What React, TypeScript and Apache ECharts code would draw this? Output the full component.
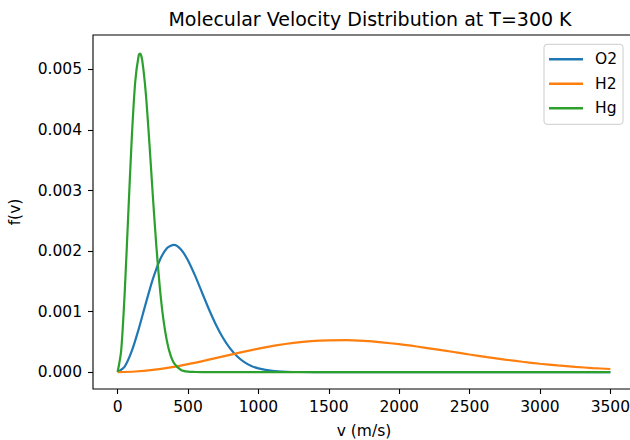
import React, { useEffect, useRef } from "react";
import * as echarts from "echarts";

const titleText = "Molecular Velocity Distribution at T=300 K";
const xName = "v (m/s)";
const yName = "f(v)";
const seriesNames = ["O2", "H2", "Hg"];
const colors = ["#1f77b4", "#ff7f0e", "#2ca02c"];

const xTicks = [0, 500, 1000, 1500, 2000, 2500, 3000, 3500];
const yTicks = [0, 0.001, 0.002, 0.003, 0.004, 0.005];

const o2V = [0, 50, 100, 150, 200, 250, 300, 350, 400, 450, 500, 550, 600, 650, 700, 750, 800, 850, 900, 950, 1000, 1100, 1200, 1300, 1500, 2000, 2500, 3000, 3500];
const o2F = [0, 0.0000902, 0.000344, 0.000714, 0.001135, 0.001535, 0.001853, 0.002047, 0.002102, 0.002026, 0.001844, 0.001593, 0.001311, 0.00103, 0.000775, 0.000559, 0.000387, 0.000257, 0.000164, 0.000101, 0.00006, 0.000019, 0.000005, 0.000001, 0, 0, 0, 0, 0];

const h2V = [0, 125, 250, 375, 500, 625, 750, 875, 1000, 1125, 1250, 1375, 1500, 1625, 1750, 1875, 2000, 2125, 2250, 2375, 2500, 2625, 2750, 2875, 3000, 3125, 3250, 3375, 3500];
const h2F = [0, 0.000009, 0.0000353, 0.000077, 0.000131, 0.000193, 0.00026, 0.000326, 0.000387, 0.00044, 0.000482, 0.000511, 0.000525, 0.000527, 0.000515, 0.000492, 0.000461, 0.000422, 0.000379, 0.000335, 0.00029, 0.000247, 0.000206, 0.00017, 0.000137, 0.000109, 0.0000857, 0.0000662, 0.0000503];

const hgV = [0, 25, 50, 75, 100, 125, 150, 160, 175, 200, 225, 250, 275, 300, 325, 350, 375, 400, 450, 500, 550, 600, 1000, 1500, 2000, 2500, 3000, 3500];
const hgF = [0, 0.000351, 0.001301, 0.002582, 0.003849, 0.004797, 0.00524, 0.005263, 0.005145, 0.004608, 0.003805, 0.002914, 0.00208, 0.001389, 0.000869, 0.000512, 0.000283, 0.000148, 0.000034, 0.000006, 0.000001, 0, 0, 0, 0, 0, 0, 0];

const FONT = "DejaVu Sans";

function pairs(v: number[], f: number[]) {
  return v.map((x, i) => [x, f[i]]);
}

export default function App() {
  const ref = useRef<HTMLDivElement>(null);
  useEffect(() => {
    if (!ref.current) return;
    const chart = echarts.init(ref.current, undefined, { renderer: "svg" });
    const mk = (name: string, v: number[], f: number[], c: string) => ({
      name,
      type: "line",
      data: pairs(v, f),
      showSymbol: false,
      symbol: "none",
      smooth: 0.25,
      lineStyle: { color: c, width: 2.2 },
      itemStyle: { color: c },
      emphasis: { disabled: true },
    });
    chart.setOption({
      animation: false,
      backgroundColor: "#ffffff",
      title: {
        text: titleText,
        left: 365,
        textAlign: "center",
        top: 4,
        textStyle: { fontFamily: FONT, fontSize: 19, fontWeight: "normal", color: "#000" },
      },
      legend: {
        orient: "vertical",
        left: 544,
        top: 44.3,
        data: seriesNames,
        icon: "rect",
        itemWidth: 34,
        itemHeight: 2.4,
        itemGap: 8.5,
        padding: [7, 6, 8, 5],
        borderColor: "#cccccc",
        borderWidth: 1,
        borderRadius: 3,
        backgroundColor: "rgba(255,255,255,0.8)",
        textStyle: { fontFamily: FONT, fontSize: 15.5, color: "#000", padding: [0, 0, 0, 7] },
      },
      grid: {
        left: 93,
        top: 35,
        width: 542,
        height: 354,
        containLabel: false,
        outerBoundsMode: "none",
        show: true,
        borderColor: "#000",
        borderWidth: 1.1,
        backgroundColor: "transparent",
      },
      xAxis: {
        type: "value",
        min: -175,
        max: 3675,
        name: xName,
        nameLocation: "middle",
        nameGap: 34,
        nameTextStyle: { fontFamily: FONT, fontSize: 15.5, color: "#000" },
        axisLine: { show: false, onZero: false },
        axisTick: { show: true, inside: false, length: 5, customValues: xTicks, lineStyle: { color: "#000", width: 1.1 } },
        axisLabel: {
          customValues: xTicks,
          margin: 10,
          fontFamily: FONT,
          fontSize: 15.5,
          color: "#000",
          formatter: (v: number) => String(v),
        },
        splitLine: { show: false },
      },
      yAxis: {
        type: "value",
        min: -0.00028,
        max: 0.00557,
        name: yName,
        nameLocation: "middle",
        nameGap: 70,
        nameTextStyle: { fontFamily: FONT, fontSize: 15.5, color: "#000" },
        axisLine: { show: false, onZero: false },
        axisTick: { show: true, inside: false, length: 5, customValues: yTicks, lineStyle: { color: "#000", width: 1.1 } },
        axisLabel: {
          customValues: yTicks,
          margin: 11,
          fontFamily: FONT,
          fontSize: 15.5,
          color: "#000",
          formatter: (v: number) => v.toFixed(3),
        },
        splitLine: { show: false },
      },
      series: [
        mk(seriesNames[0], o2V, o2F, colors[0]),
        mk(seriesNames[1], h2V, h2F, colors[1]),
        mk(seriesNames[2], hgV, hgF, colors[2]),
      ],
    });
    return () => chart.dispose();
  }, []);
  return <div ref={ref} style={{ position: "fixed", left: 0, top: 0, width: 630, height: 440 }} />;
}
